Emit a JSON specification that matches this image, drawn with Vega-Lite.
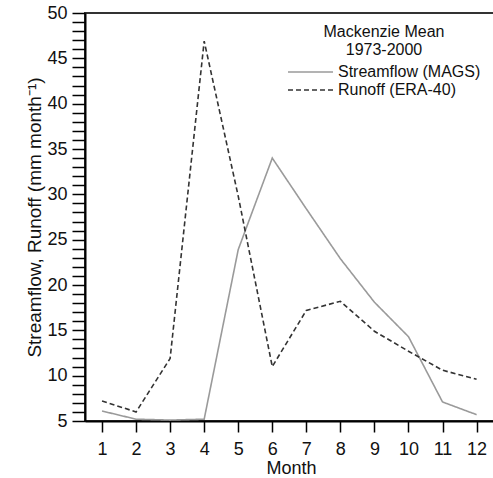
{
  "$schema": "https://vega.github.io/schema/vega-lite/v6.json",
  "autosize": "none",
  "padding": {"left": 85, "top": 13, "right": 0, "bottom": 57},
  "width": 412,
  "height": 408,
  "config": {
    "font": "Liberation Sans",
    "view": {"stroke": "#333333", "strokeWidth": 2}
  },
  "data": {
    "values": [
      {"month": 1, "series": "Streamflow (MAGS)", "value": 6.1},
      {"month": 2, "series": "Streamflow (MAGS)", "value": 5.2},
      {"month": 3, "series": "Streamflow (MAGS)", "value": 5.1},
      {"month": 4, "series": "Streamflow (MAGS)", "value": 5.2},
      {"month": 5, "series": "Streamflow (MAGS)", "value": 23.9},
      {"month": 6, "series": "Streamflow (MAGS)", "value": 34.0},
      {"month": 7, "series": "Streamflow (MAGS)", "value": 28.4},
      {"month": 8, "series": "Streamflow (MAGS)", "value": 22.9},
      {"month": 9, "series": "Streamflow (MAGS)", "value": 18.1},
      {"month": 10, "series": "Streamflow (MAGS)", "value": 14.3},
      {"month": 11, "series": "Streamflow (MAGS)", "value": 7.1},
      {"month": 12, "series": "Streamflow (MAGS)", "value": 5.7},
      {"month": 1, "series": "Runoff (ERA-40)", "value": 7.2},
      {"month": 2, "series": "Runoff (ERA-40)", "value": 6.0},
      {"month": 3, "series": "Runoff (ERA-40)", "value": 11.9},
      {"month": 4, "series": "Runoff (ERA-40)", "value": 46.9},
      {"month": 5, "series": "Runoff (ERA-40)", "value": 29.8},
      {"month": 6, "series": "Runoff (ERA-40)", "value": 11.0},
      {"month": 7, "series": "Runoff (ERA-40)", "value": 17.2},
      {"month": 8, "series": "Runoff (ERA-40)", "value": 18.2},
      {"month": 9, "series": "Runoff (ERA-40)", "value": 14.9},
      {"month": 10, "series": "Runoff (ERA-40)", "value": 12.7},
      {"month": 11, "series": "Runoff (ERA-40)", "value": 10.6},
      {"month": 12, "series": "Runoff (ERA-40)", "value": 9.6}
    ]
  },
  "mark": {"type": "line", "strokeWidth": 1.6},
  "encoding": {
    "x": {
      "field": "month", "type": "quantitative",
      "scale": {"domain": [0.5, 12.6], "nice": false, "zero": false},
      "axis": {
        "title": "Month",
        "values": [1, 2, 3, 4, 5, 6, 7, 8, 9, 10, 11, 12],
        "grid": false,
        "domainColor": "#000000", "domainWidth": 2,
        "tickColor": "#000000", "tickWidth": 1.5, "tickSize": 11,
        "labelFontSize": 18, "labelColor": "#111111", "labelPadding": 8,
        "titleFontSize": 18, "titleFontWeight": "normal", "titleColor": "#111111", "titlePadding": 1
      }
    },
    "y": {
      "field": "value", "type": "quantitative",
      "scale": {"domain": [5, 50], "nice": false, "zero": false},
      "axis": {
        "title": "Streamflow, Runoff (mm month⁻¹)",
        "values": [5,6,7,8,9,10,11,12,13,14,15,16,17,18,19,20,21,22,23,24,25,26,27,28,29,30,31,32,33,34,35,36,37,38,39,40,41,42,43,44,45,46,47,48,49,50],
        "labelExpr": "datum.value % 5 == 0 ? datum.label : ''",
        "tickSize": 13,
        "encode": {
          "ticks": {
            "enter": {"x": {"value": 0}, "x2": {"signal": "(datum.value % 5) === 0 ? -13 : -7"}},
            "update": {"x": {"value": 0}, "x2": {"signal": "(datum.value % 5) === 0 ? -13 : -7"}}
          }
        },
        "grid": false,
        "domainColor": "#000000", "domainWidth": 2,
        "tickColor": "#000000", "tickWidth": 1.5,
        "labelFontSize": 18, "labelColor": "#111111", "labelPadding": 5,
        "labelFlush": false, "labelOverlap": false,
        "titleFontSize": 19, "titleFontWeight": "normal", "titleColor": "#111111", "titlePadding": 2
      }
    },
    "color": {
      "field": "series", "type": "nominal",
      "scale": {"domain": ["Streamflow (MAGS)", "Runoff (ERA-40)"], "range": ["#9a9a9a", "#333333"]},
      "legend": {
        "title": ["Mackenzie Mean", "1973-2000"],
        "orient": "none", "legendX": 202, "legendY": 11,
        "titleFontSize": 16, "titleFontWeight": "normal", "titleColor": "#111111",
        "titleAlign": "center", "titleAnchor": "middle", "titlePadding": 4, "titleLineHeight": 18,
        "labelFontSize": 16, "labelColor": "#111111", "labelOffset": 31,
        "symbolType": "M-1,0H4", "symbolSize": 324, "symbolStrokeWidth": 1.6,
        "rowPadding": 0
      }
    },
    "strokeDash": {
      "field": "series", "type": "nominal",
      "scale": {"domain": ["Streamflow (MAGS)", "Runoff (ERA-40)"], "range": [[1, 0], [5, 3]]},
      "legend": {
        "title": ["Mackenzie Mean", "1973-2000"],
        "orient": "none", "legendX": 202, "legendY": 11,
        "titleFontSize": 16, "titleFontWeight": "normal", "titleColor": "#111111",
        "titleAlign": "center", "titleAnchor": "middle", "titlePadding": 4, "titleLineHeight": 18,
        "labelFontSize": 16, "labelColor": "#111111", "labelOffset": 31,
        "symbolType": "M-1,0H4", "symbolSize": 324, "symbolStrokeWidth": 1.6,
        "rowPadding": 0
      }
    }
  }
}
